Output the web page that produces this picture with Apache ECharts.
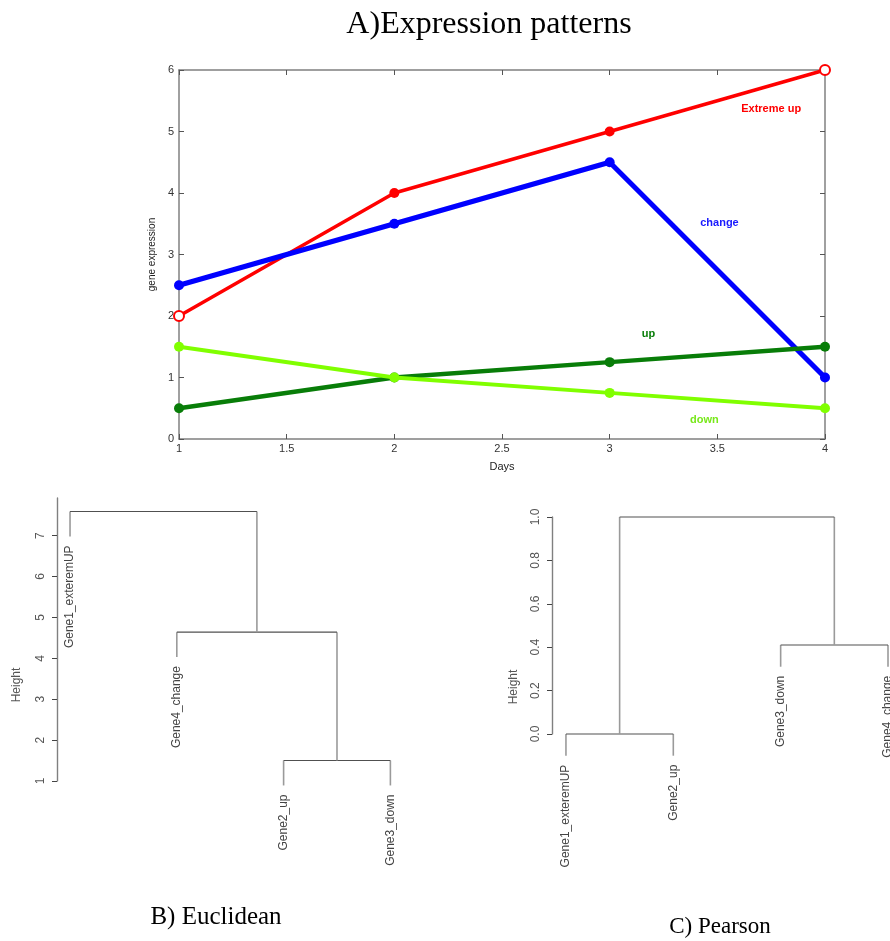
<!DOCTYPE html>
<html>
<head>
<meta charset="utf-8">
<script src="https://cdn.jsdelivr.net/npm/echarts@6/dist/echarts.min.js"></script>
<style>
  html, body { margin: 0; padding: 0; background: #ffffff; }
  #chart { width: 890px; height: 941px; }
</style>
</head>
<body>
<div id="chart"></div>
<script>
// ---- Expression profiles over four days ----
const days = [1, 2, 3, 4];
const extremeUp = [2, 4, 5, 6];
const change = [2.5, 3.5, 4.5, 1];
const up = [0.5, 1, 1.25, 1.5];
const down = [1.5, 1, 0.75, 0.5];
const profileNames = ['Extreme up', 'change', 'up', 'down'];

// ---- Hierarchical clustering of the four genes ----
const geneNames = ['Gene1_exteremUP', 'Gene2_up', 'Gene3_down', 'Gene4_change'];
// hclust-style merge table: negative = leaf id, positive = earlier merge step
const euclidMerge = [[-2, -3], [-4, 1], [-1, 2]];
const euclidHeights = [1.5, 4.64, 7.59];
const euclidOrder = [1, 4, 2, 3];
const euclidTicks = [1, 2, 3, 4, 5, 6, 7];

const pearsonMerge = [[-1, -2], [-3, -4], [1, 2]];
const pearsonHeights = [0, 0.41, 1.0];
const pearsonOrder = [1, 2, 3, 4];
const pearsonTicks = [0, 0.2, 0.4, 0.6, 0.8, 1.0];

// ---- styling / layout ----
const SANS = '"Liberation Sans", Arial, sans-serif';
const SERIF = '"Liberation Serif", "Times New Roman", serif';
const profileStyles = [
  { color: '#ff0000', width: 3.5 },
  { color: '#0000ff', width: 5 },
  { color: '#087d08', width: 4.5 },
  { color: '#80ff00', width: 4 }
];
// where each profile's name sits, in data units
const profileLabelAt = [[3.75, 5.37], [3.51, 3.51], [3.18, 1.71], [3.44, 0.31]];
const profileLabelColors = ['#ff0000', '#1a1aff', '#087d08', '#78e81a'];

function pairs(xs, ys) { return xs.map((x, i) => [x, ys[i]]); }

// Turn a merge table into line segments and leaf label anchors (R plot.hclust, hang = 0.1)
function buildTree(merge, heights, order) {
  const hang = 0.1 * (Math.max(...heights) - Math.min(...heights));
  const leafX = {};
  order.forEach((leaf, i) => { leafX[leaf] = i + 1; });
  const nodeX = [];
  const segs = [];
  const leaves = [];
  merge.forEach((pair, k) => {
    const h = heights[k];
    const xs = pair.map(c => {
      if (c < 0) {
        const x = leafX[-c];
        const bottom = h - hang;
        leaves.push({ value: [x, bottom], name: geneNames[-c - 1] });
        segs.push([x, bottom, x, h]);
        return x;
      }
      const x = nodeX[c - 1];
      segs.push([x, heights[c - 1], x, h]);
      return x;
    });
    segs.push([xs[0], h, xs[1], h]);
    nodeX.push((xs[0] + xs[1]) / 2);
  });
  return { segs, leaves };
}

const euclidTree = buildTree(euclidMerge, euclidHeights, euclidOrder);
const pearsonTree = buildTree(pearsonMerge, pearsonHeights, pearsonOrder);

function segmentSeries(tree, gridIdx) {
  return {
    type: 'custom',
    xAxisIndex: gridIdx === 1 ? 2 : 3,
    yAxisIndex: gridIdx === 1 ? 2 : 3,
    clip: false,
    silent: true,
    encode: { x: [0, 2], y: [1, 3] },
    data: tree.segs,
    renderItem: (params, api) => {
      const p1 = api.coord([api.value(0), api.value(1)]);
      const p2 = api.coord([api.value(2), api.value(3)]);
      const vertical = Math.abs(p1[0] - p2[0]) < 0.5;
      return {
        type: 'line',
        shape: { x1: p1[0], y1: p1[1], x2: p2[0], y2: p2[1] },
        style: vertical
          ? { stroke: '#9a9a9a', lineWidth: 1.6 }
          : { stroke: '#505050', lineWidth: 1.1 }
      };
    }
  };
}

function leafLabelSeries(tree, gridIdx) {
  return {
    type: 'custom',
    xAxisIndex: gridIdx === 1 ? 2 : 3,
    yAxisIndex: gridIdx === 1 ? 2 : 3,
    clip: false,
    silent: true,
    data: tree.leaves.map(l => l.value),
    renderItem: (params, api) => {
      const p = api.coord([api.value(0), api.value(1)]);
      return {
        type: 'text',
        x: p[0],
        y: p[1] + 9,
        rotation: Math.PI / 2,
        style: {
          text: tree.leaves[params.dataIndex].name,
          align: 'right',
          verticalAlign: 'middle',
          fill: '#444',
          font: '12px ' + SANS
        }
      };
    }
  };
}

function dendroYAxis(gridIdx, min, max, ticks, fmt) {
  return {
    type: 'value', gridIndex: gridIdx, min: min, max: max,
    splitLine: { show: false },
    axisLine: { show: true, lineStyle: { color: '#808080', width: 1.4 } },
    axisTick: { show: true, length: 5, customValues: ticks, lineStyle: { color: '#444', width: 1 } },
    axisLabel: {
      show: true, rotate: 90, margin: 10, customValues: ticks,
      formatter: fmt, color: '#555', fontSize: 12, fontFamily: SANS
    }
  };
}

const frameAxisLine = { show: true, onZero: false, lineStyle: { color: '#808080', width: 1.5 } };
const frameTick = { show: true, inside: true, length: 5, lineStyle: { color: '#555', width: 1 } };

const profileSeries = [extremeUp, change, up, down].map((vals, i) => ({
  type: 'line',
  name: profileNames[i],
  xAxisIndex: 0,
  yAxisIndex: 0,
  data: pairs(days, vals).map((p, j) => (
    i === 0 && (j === 0 || j === vals.length - 1)
      ? { value: p, symbol: 'emptyCircle', itemStyle: { borderWidth: 2.5 } }
      : { value: p }
  )),
  symbol: 'circle',
  symbolSize: 10,
  lineStyle: { color: profileStyles[i].color, width: profileStyles[i].width },
  itemStyle: { color: profileStyles[i].color },
  z: i === 3 ? 4 : 3,
  markPoint: {
    symbol: 'circle', symbolSize: 1, silent: true,
    itemStyle: { color: 'rgba(0,0,0,0)' },
    label: {
      show: true, position: 'inside', formatter: profileNames[i],
      color: profileLabelColors[i], fontWeight: 'bold', fontSize: 11, fontFamily: SANS
    },
    data: [{ coord: profileLabelAt[i] }]
  }
}));

const option = {
  animation: false,
  backgroundColor: '#ffffff',
  grid: [
    { left: 179, top: 70, width: 646, height: 369 },
    { left: 57, top: 498, width: 343, height: 283 },
    { left: 552, top: 517, width: 336, height: 217 }
  ],
  xAxis: [
    {
      type: 'value', gridIndex: 0, min: 1, max: 4, interval: 0.5,
      name: 'Days', nameLocation: 'middle', nameGap: 22,
      nameTextStyle: { color: '#222', fontSize: 11, fontFamily: SANS },
      splitLine: { show: false },
      axisLine: frameAxisLine, axisTick: frameTick,
      axisLabel: { margin: 4, color: '#333', fontSize: 11, fontFamily: SANS }
    },
    {
      type: 'value', gridIndex: 0, min: 1, max: 4, interval: 0.5, position: 'top',
      splitLine: { show: false },
      axisLine: frameAxisLine, axisTick: frameTick, axisLabel: { show: false }
    },
    { type: 'value', gridIndex: 1, min: 0.878, max: 4.09, show: false },
    { type: 'value', gridIndex: 2, min: 0.87, max: 4.0, show: false }
  ],
  yAxis: [
    {
      type: 'value', gridIndex: 0, min: 0, max: 6, interval: 1,
      name: 'gene expression', nameLocation: 'middle', nameGap: 20, nameRotate: 90,
      nameTextStyle: { color: '#222', fontSize: 10, fontFamily: SANS },
      splitLine: { show: false },
      axisLine: frameAxisLine, axisTick: frameTick,
      axisLabel: { margin: 5, color: '#333', fontSize: 11, fontFamily: SANS }
    },
    {
      type: 'value', gridIndex: 0, min: 0, max: 6, interval: 1, position: 'right',
      splitLine: { show: false },
      axisLine: frameAxisLine, axisTick: frameTick, axisLabel: { show: false }
    },
    dendroYAxis(1, 1, 7.92, euclidTicks, v => String(v)),
    dendroYAxis(2, 0, 1, pearsonTicks, v => v.toFixed(1))
  ],
  graphic: [
    {
      type: 'text', x: 489, y: 25,
      style: { text: 'A)Expression patterns', fill: '#000', font: '32px ' + SERIF, align: 'center', verticalAlign: 'middle' }
    },
    {
      type: 'text', x: 17, y: 685, rotation: Math.PI / 2,
      style: { text: 'Height', fill: '#555', font: '12px ' + SANS, align: 'center', verticalAlign: 'middle' }
    },
    {
      type: 'text', x: 514, y: 687, rotation: Math.PI / 2,
      style: { text: 'Height', fill: '#555', font: '12px ' + SANS, align: 'center', verticalAlign: 'middle' }
    },
    {
      type: 'text', x: 216, y: 917,
      style: { text: 'B) Euclidean', fill: '#000', font: '25px ' + SERIF, align: 'center', verticalAlign: 'middle' }
    },
    {
      type: 'text', x: 720, y: 927,
      style: { text: 'C) Pearson', fill: '#000', font: '23px ' + SERIF, align: 'center', verticalAlign: 'middle' }
    }
  ],
  series: [
    ...profileSeries,
    segmentSeries(euclidTree, 1),
    leafLabelSeries(euclidTree, 1),
    segmentSeries(pearsonTree, 2),
    leafLabelSeries(pearsonTree, 2)
  ]
};

const chart = echarts.init(document.getElementById('chart'), null, { renderer: 'canvas' });
chart.setOption(option);
</script>
</body>
</html>
